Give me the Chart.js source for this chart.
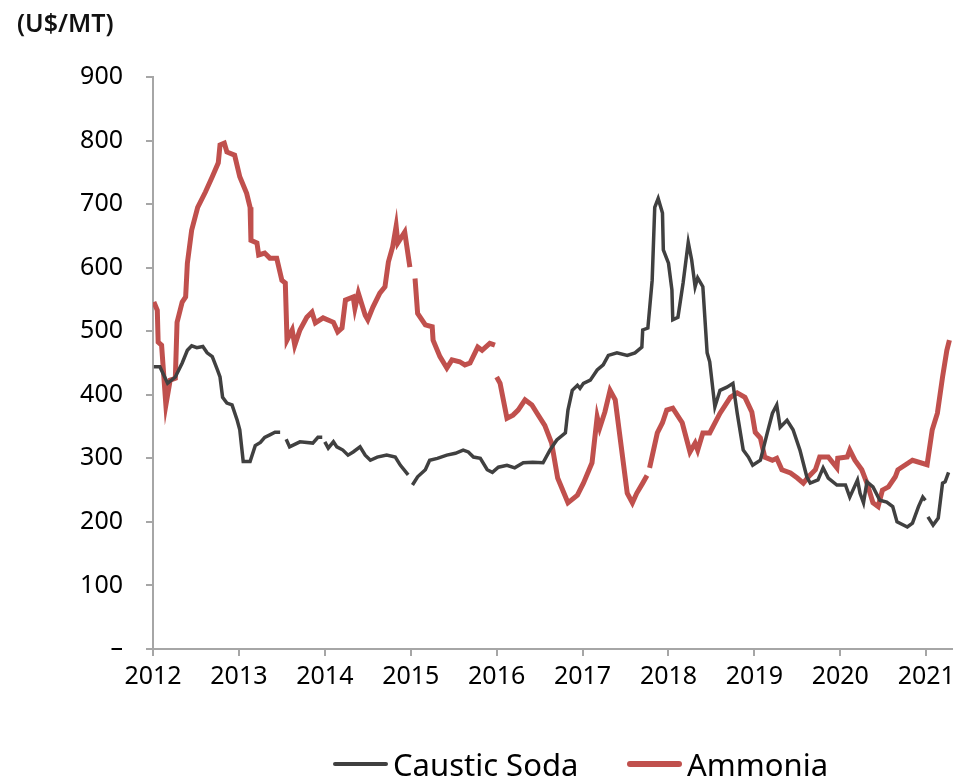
<!DOCTYPE html>
<html>
<head>
<meta charset="utf-8">
<script src="https://cdn.jsdelivr.net/npm/chart.js@4.4.1/dist/chart.umd.min.js"></script>
<style>
  html, body { margin: 0; padding: 0; background: #fff; }
  #wrap { position: relative; width: 972px; height: 780px; font-family: "Noto Sans", sans-serif; }
  #unit { position: absolute; left: 17px; top: 5px; font-size: 25px; font-weight: 600; color: #111; }
  #legend { position: absolute; top: 743px; left: 0; width: 972px; height: 40px; font-size: 31px; color: #000; }
  .item { position: absolute; top: 0; display: flex; align-items: center; white-space: nowrap; }
  .swatch { display: inline-block; width: 55px; margin-right: 5px; border-radius: 3px; }
</style>
</head>
<body>
<div id="wrap">
  <canvas id="chart" width="972" height="780"></canvas>
  <div id="unit">(U$/MT)</div>
  <div id="legend">
    <div class="item" style="left:333px"><span class="swatch" style="height:4px;background:#404040"></span>Caustic Soda</div>
    <div class="item" style="left:627px"><span class="swatch" style="height:6px;background:#c0504d"></span>Ammonia</div>
  </div>
</div>
<script>
// Годы и цены (US$/MT); null = разрыв линии
const causticYears = [
  2012.01, 2012.08, 2012.17, 2012.26, 2012.34, 2012.40, 2012.45, 2012.51, 2012.58, 2012.63,
  2012.69, 2012.75, 2012.78, 2012.81, 2012.86, 2012.92, 2012.98, 2013.01, 2013.05, 2013.13,
  2013.19, 2013.25, 2013.30, 2013.36, 2013.42, 2013.48, 2013.52, 2013.55, 2013.59, 2013.71,
  2013.86, 2013.92, 2013.97, 2013.99, 2014.00, 2014.04, 2014.10, 2014.14, 2014.21, 2014.27,
  2014.33, 2014.41, 2014.47, 2014.53, 2014.61, 2014.72, 2014.82, 2014.88, 2014.97, 2015.00,
  2015.02, 2015.08, 2015.17, 2015.22, 2015.31, 2015.42, 2015.52, 2015.61, 2015.67, 2015.73,
  2015.81, 2015.89, 2015.95, 2016.02, 2016.12, 2016.21, 2016.31, 2016.42, 2016.54, 2016.62,
  2016.70, 2016.80, 2016.83, 2016.88, 2016.94, 2016.97, 2017.01, 2017.09, 2017.17, 2017.24,
  2017.30, 2017.40, 2017.52, 2017.61, 2017.69, 2017.70, 2017.76, 2017.81, 2017.84, 2017.88,
  2017.93, 2017.94, 2018.00, 2018.04, 2018.05, 2018.11, 2018.17, 2018.23, 2018.27, 2018.31,
  2018.34, 2018.40, 2018.45, 2018.48, 2018.54, 2018.60, 2018.68, 2018.75, 2018.80, 2018.87,
  2018.93, 2018.98, 2019.07, 2019.15, 2019.21, 2019.26, 2019.30, 2019.38, 2019.45, 2019.53,
  2019.61, 2019.65, 2019.74, 2019.80, 2019.86, 2019.96, 2020.06, 2020.11, 2020.20, 2020.23,
  2020.27, 2020.31, 2020.38, 2020.46, 2020.54, 2020.61, 2020.66, 2020.78, 2020.84, 2020.91,
  2020.96, 2020.99, 2021.01, 2021.02, 2021.08, 2021.14, 2021.19, 2021.22, 2021.26
];
const causticValues = [
  444, 444, 418, 428, 450, 470, 477, 474, 476, 466,
  460, 439, 428, 396, 387, 384, 360, 345, 295, 295,
  320, 325, 333, 337, 341, 341, null, 330, 318, 326,
  324, 333, 333, null, 326, 316, 326, 318, 313, 305,
  310, 318, 305, 297, 302, 305, 302, 289, 274, null,
  258, 271, 282, 297, 300, 305, 308, 313, 310, 302,
  300, 282, 278, 286, 289, 285, 293, 294, 293, 313,
  329, 340, 376, 407, 415, 410, 418, 423, 439, 447,
  462, 466, 462, 466, 475, 502, 505, 580, 695, 709,
  686, 628, 607, 565, 518, 522, 576, 640, 612, 570,
  584, 570, 466, 452, 381, 407, 412, 418, 371, 313,
  302, 289, 297, 340, 371, 384, 349, 360, 345, 313,
  271, 261, 266, 285, 269, 258, 258, 239, 266, 245,
  230, 263, 255, 234, 231, 224, 200, 192, 198, 224,
  239, 234, null, 208, 195, 206, 261, 263, 278
];

const ammoniaYears = [
  2012.01, 2012.05, 2012.06, 2012.10, 2012.15, 2012.20, 2012.26, 2012.28, 2012.34, 2012.38,
  2012.40, 2012.45, 2012.52, 2012.61, 2012.69, 2012.76, 2012.78, 2012.83, 2012.86, 2012.95,
  2013.01, 2013.09, 2013.13, 2013.14, 2013.21, 2013.23, 2013.30, 2013.36, 2013.44, 2013.50,
  2013.54, 2013.56, 2013.62, 2013.65, 2013.71, 2013.79, 2013.85, 2013.89, 2013.98, 2014.10,
  2014.15, 2014.20, 2014.24, 2014.33, 2014.35, 2014.39, 2014.47, 2014.50, 2014.56, 2014.64,
  2014.70, 2014.74, 2014.79, 2014.83, 2014.85, 2014.93, 2014.99, 2015.02, 2015.05, 2015.08,
  2015.17, 2015.25, 2015.26, 2015.34, 2015.42, 2015.48, 2015.57, 2015.63, 2015.69, 2015.78,
  2015.83, 2015.92, 2015.98, 2015.99, 2016.00, 2016.04, 2016.12, 2016.19, 2016.25, 2016.33,
  2016.41, 2016.47, 2016.56, 2016.64, 2016.71, 2016.83, 2016.94, 2017.01, 2017.11, 2017.17,
  2017.20, 2017.26, 2017.32, 2017.38, 2017.44, 2017.52, 2017.58, 2017.63, 2017.70, 2017.75,
  2017.76, 2017.78, 2017.87, 2017.93, 2017.98, 2018.05, 2018.16, 2018.25, 2018.31, 2018.34,
  2018.40, 2018.48, 2018.60, 2018.72, 2018.80, 2018.89, 2018.97, 2019.01, 2019.07, 2019.12,
  2019.21, 2019.26, 2019.32, 2019.42, 2019.50, 2019.57, 2019.63, 2019.71, 2019.76, 2019.86,
  2019.96, 2019.97, 2020.08, 2020.11, 2020.17, 2020.25, 2020.31, 2020.38, 2020.44, 2020.49,
  2020.56, 2020.64, 2020.67, 2020.84, 2021.01, 2021.07, 2021.13, 2021.19, 2021.24, 2021.27
];
const ammoniaValues = [
  546, 533, 483, 478, 384, 423, 426, 514, 546, 554,
  607, 659, 695, 719, 743, 765, 793, 796, 782, 777,
  743, 717, 695, 643, 639, 620, 623, 615, 615, 580,
  576, 486, 502, 478, 502, 522, 530, 513, 521, 514,
  499, 505, 549, 554, 536, 560, 525, 518, 538, 560,
  570, 609, 633, 665, 639, 656, 601, null, 583, 528,
  510, 507, 486, 460, 442, 455, 452, 447, 450, 475,
  470, 481, 478, null, 428, 418, 363, 368, 376, 392,
  384, 371, 352, 324, 269, 230, 242, 261, 293, 365,
  348, 373, 407, 392, 329, 245, 230, 245, 261, 273,
  null, 285, 340, 356, 376, 379, 356, 310, 324, 313,
  340, 340, 371, 396, 403, 396, 373, 341, 332, 302,
  297, 300, 282, 277, 269, 261, 271, 282, 302, 302,
  285, 300, 302, 313, 297, 282, 261, 230, 224, 250,
  255, 271, 282, 297, 290, 345, 371, 428, 470, 486
];

// Оси
const xTickYears = [2012, 2013, 2014, 2015, 2016, 2017, 2018, 2019, 2020, 2021];
const yTicks = [0, 100, 200, 300, 400, 500, 600, 700, 800, 900];

function toPoints(years, values) {
  return years.map((x, i) => ({ x: x, y: values[i] }));
}

const axisGrey = '#a6a6a6';
const tickFont = { family: '"Noto Sans", sans-serif', size: 25 };

new Chart(document.getElementById('chart').getContext('2d'), {
  type: 'line',
  data: {
    datasets: [
      {
        label: 'Caustic Soda',
        data: toPoints(causticYears, causticValues),
        borderColor: '#404040',
        backgroundColor: '#404040',
        borderWidth: 3.5,
        pointRadius: 0,
        tension: 0,
        spanGaps: false,
        fill: false
      },
      {
        label: 'Ammonia',
        data: toPoints(ammoniaYears, ammoniaValues),
        borderColor: '#c0504d',
        backgroundColor: '#c0504d',
        borderWidth: 5,
        pointRadius: 0,
        tension: 0,
        spanGaps: false,
        fill: false
      }
    ]
  },
  options: {
    responsive: false,
    animation: false,
    layout: { padding: { left: 0, right: 20, top: 77, bottom: 91 } },
    plugins: {
      legend: { display: false },
      tooltip: { enabled: false }
    },
    scales: {
      x: {
        type: 'linear',
        min: 2012,
        max: 2021.3,
        afterFit: s => { s.height = 40; },
        afterBuildTicks: s => { s.ticks = xTickYears.map(v => ({ value: v })); },
        ticks: {
          includeBounds: false,
          autoSkip: false,
          maxRotation: 0,
          padding: 6,
          color: '#000',
          font: tickFont,
          callback: v => String(v)
        },
        grid: { display: true, drawOnChartArea: false, drawTicks: true, tickLength: 7, color: axisGrey, lineWidth: 2 },
        border: { display: true, color: axisGrey, width: 2 }
      },
      y: {
        min: 0,
        max: 900,
        afterFit: s => { s.width = 153; },
        afterBuildTicks: s => { s.ticks = yTicks.map(v => ({ value: v })); },
        ticks: {
          padding: 23,
          color: '#000',
          font: tickFont,
          callback: v => (v === 0 ? '–' : String(v))
        },
        grid: { display: true, drawOnChartArea: false, drawTicks: true, tickLength: 7, color: axisGrey, lineWidth: 2 },
        border: { display: true, color: axisGrey, width: 2 }
      }
    }
  }
});
</script>
</body>
</html>
